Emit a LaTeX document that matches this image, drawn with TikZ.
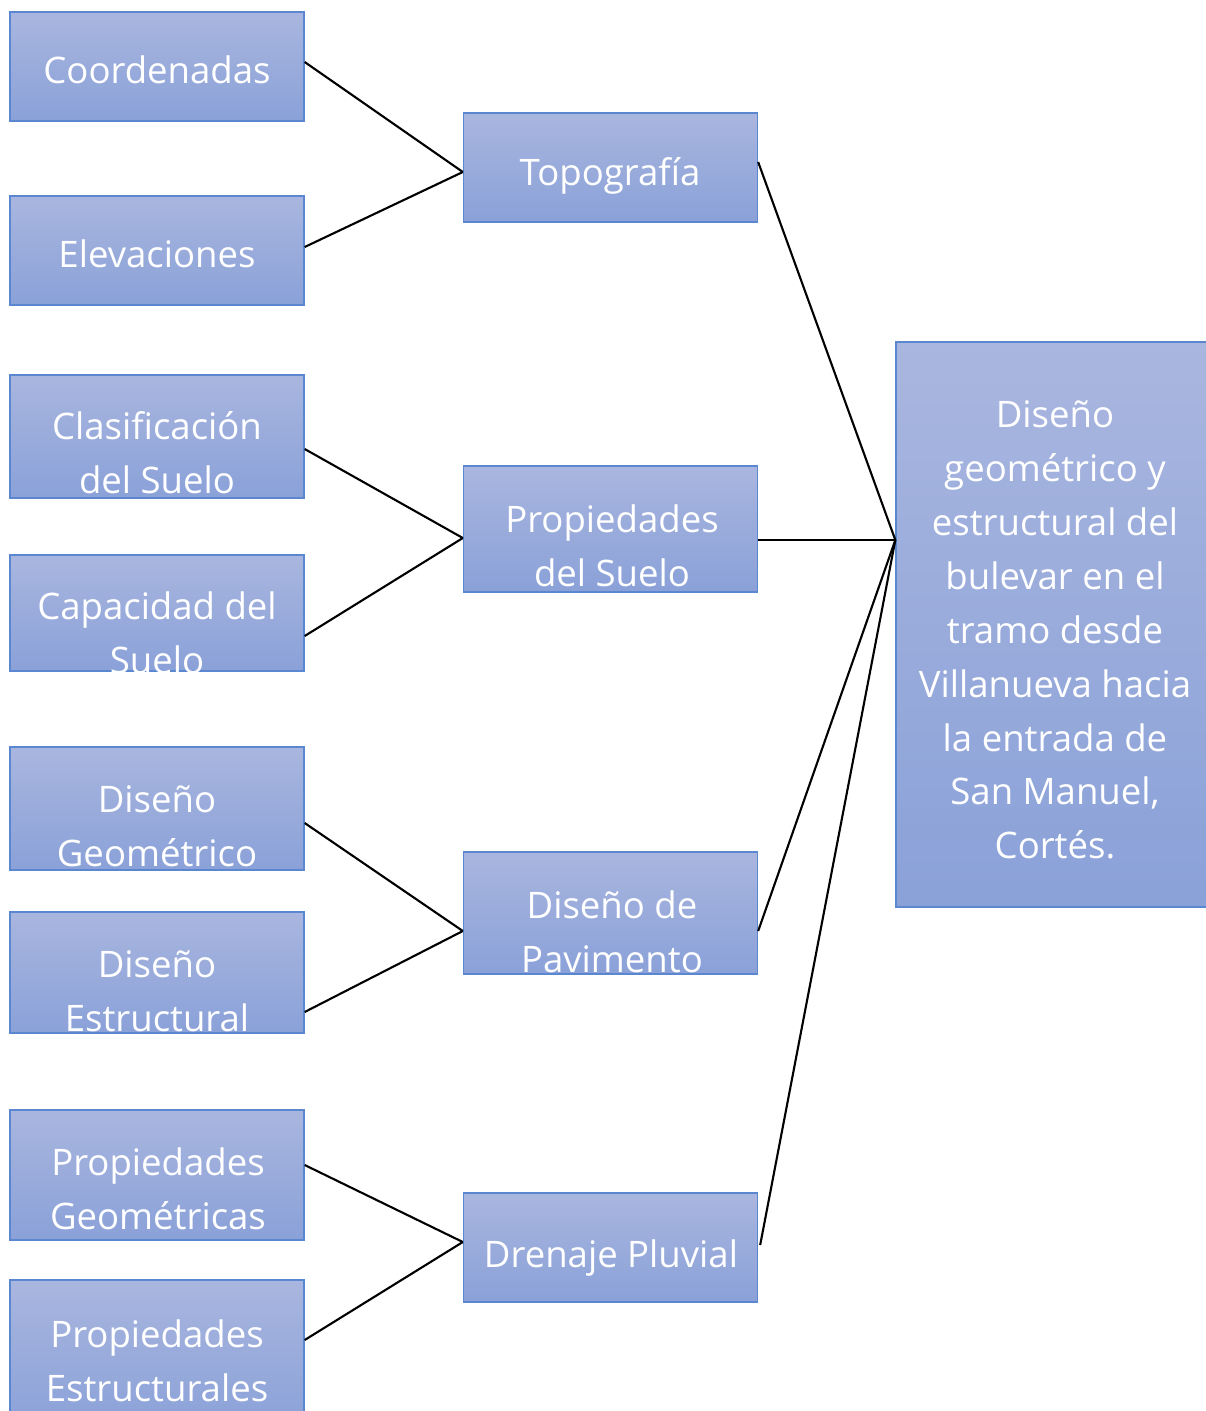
\documentclass[tikz,border=0pt]{standalone}
\usepackage{fontspec}
\setmainfont{Open Sans}
\usetikzlibrary{calc}

\definecolor{cajaarriba}{HTML}{A9B6DF}
\definecolor{cajaabajo}{HTML}{8AA1D8}
\definecolor{bordeazul}{HTML}{5B87D0}

\tikzset{
  caja/.style={draw=bordeazul, line width=0.8pt, top color=cajaarriba,
    bottom color=cajaabajo, minimum width=5.88cm, inner sep=0pt},
  texto/.style={text=white, align=center, inner sep=0pt,
    font=\fontsize{20.8}{30.7}\selectfont},
  linea/.style={line width=1.2pt, black}
}

\begin{document}
\begin{tikzpicture}[x=0.02cm, y=-0.02cm]
\clip (0,0) rectangle (1206,1411);

% cajas de la izquierda
\node[caja, minimum height=2.18cm] (coord) at (157,66.5) {};
\node[caja, minimum height=2.18cm] (elev) at (157,250.5) {};
\node[caja, minimum height=2.46cm] (clas) at (157,436.5) {};
\node[caja, minimum height=2.32cm] (capa) at (157,613) {};
\node[caja, minimum height=2.46cm] (dgeo) at (157,808.5) {};
\node[caja, minimum height=2.42cm] (dest) at (157,972.5) {};
\node[caja, minimum height=2.6cm] (pgeo) at (157,1175) {};
\node[caja, minimum height=3cm] (pest) at (157,1355) {};

% cajas del centro
\node[caja, minimum height=2.18cm] (topo) at (610.5,167.5) {};
\node[caja, minimum height=2.52cm] (psue) at (610.5,529) {};
\node[caja, minimum height=2.44cm] (pavi) at (610.5,913) {};
\node[caja, minimum height=2.18cm] (dren) at (610.5,1247.5) {};

% caja final
\node[caja, minimum width=6.36cm, minimum height=11.3cm] (main) at (1055,624.5) {};

% textos
\node[texto] (coordT) at (157,70) {Coordenadas};
\node[texto] (elevT) at (157,254) {Elevaciones};
\node[texto] (clasT) at (157,453) {Clasificación\\del Suelo};
\node[texto] (capaT) at (157,633) {Capacidad del\\Suelo};
\node[texto] (dgeoT) at (157,826) {Diseño\\Geométrico};
\node[texto] (destT) at (157,991) {Diseño\\Estructural};
\node[texto] (pgeoT) at (158,1189) {Propiedades\\Geométricas};
\node[texto] (pestT) at (157,1361) {Propiedades\\Estructurales};
\node[texto] (topoT) at (610,176) {Topografía};
\node[texto] (psueT) at (612,546) {Propiedades\\del Suelo};
\node[texto] (paviT) at (612,932) {Diseño de\\Pavimento};
\node[texto] (drenT) at (611,1258) {Drenaje Pluvial};
\node[texto] (mainT) at (1055,630) {Diseño\\geométrico y\\estructural del\\bulevar en el\\tramo desde\\Villanueva hacia\\la entrada de\\San Manuel,\\Cortés.};

% conectores
\draw[linea] ($(coord.east)+(0,-4.5)$) -- ($(topo.west)+(0,4.5)$);
\draw[linea] ($(elev.east)+(0,-3.5)$) -- ($(topo.west)+(0,4.5)$);
\draw[linea] ($(clas.east)+(0,12.5)$) -- ($(psue.west)+(0,9)$);
\draw[linea] ($(capa.east)+(0,23)$) -- ($(psue.west)+(0,9)$);
\draw[linea] ($(dgeo.east)+(0,14.5)$) -- ($(pavi.west)+(0,18)$);
\draw[linea] ($(dest.east)+(0,39.5)$) -- ($(pavi.west)+(0,18)$);
\draw[linea] ($(pgeo.east)+(0,-10)$) -- ($(dren.west)+(0,-5.5)$);
\draw[linea] ($(pest.east)+(0,-15)$) -- ($(dren.west)+(0,-5.5)$);
\draw[linea] ($(topo.east)+(0,-5.5)$) -- ($(main.west)+(0,-84.5)$);
\draw[linea] ($(psue.east)+(0,11)$) -- ($(main.west)+(0,-84.5)$);
\draw[linea] ($(pavi.east)+(0,18)$) -- ($(main.west)+(0,-84.5)$);
\draw[linea] ($(dren.east)+(2,-2.5)$) -- ($(main.west)+(0,-84.5)$);
\end{tikzpicture}
\end{document}
